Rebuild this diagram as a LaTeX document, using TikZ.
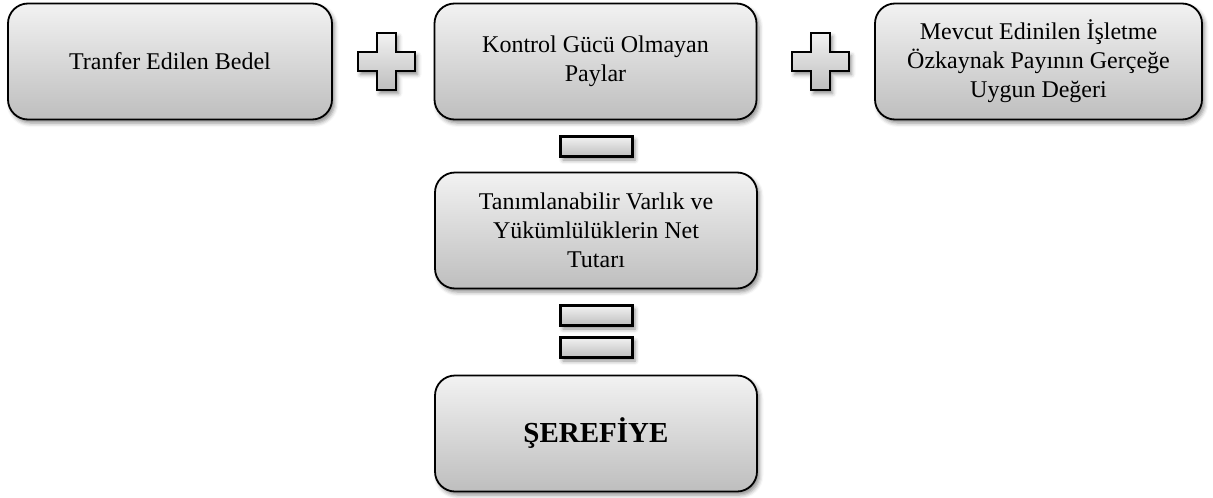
\documentclass[tikz,border=0pt]{standalone}
\usepackage{fontspec}
\setmainfont{Liberation Serif}
\usetikzlibrary{shadows.blur}

\definecolor{shadeTop}{RGB}{242,242,242}
\definecolor{shadeBot}{RGB}{190,190,190}

\tikzset{
  softshadow/.style={blur shadow={shadow xshift=2.5pt, shadow yshift=-3.5pt,
      shadow blur radius=4pt, shadow opacity=45}},
  stagebox/.style={draw=black, line width=1.8pt, rounded corners=20pt,
      top color=shadeTop, bottom color=shadeBot, softshadow,
      minimum width=322pt, minimum height=116pt, align=center,
      inner sep=4pt, font=\fontsize{24}{29}\selectfont},
  opsign/.style={draw=black, line width=1.8pt, top color=shadeTop,
      bottom color=shadeBot, softshadow},
  barbox/.style={opsign, line width=2.2pt, minimum width=72pt,
      minimum height=20pt, inner sep=0pt},
}

% plus sign centred on a given coordinate
\newcommand{\plussign}[1]{%
  \path[opsign] ($(#1)+(-9.5,-28.5)$) -- ++(19,0) -- ++(0,19) -- ++(19,0)
    -- ++(0,19) -- ++(-19,0) -- ++(0,19) -- ++(-19,0) -- ++(0,-19)
    -- ++(-19,0) -- ++(0,-19) -- ++(19,0) -- cycle;}
\usetikzlibrary{calc}

\begin{document}
\begin{tikzpicture}[x=1pt, y=-1pt]
  \useasboundingbox (0,0) rectangle (1213,498);

  % top row
  \node[stagebox, minimum width=324pt] (bedel) at (170,61.5) {Tranfer Edilen Bedel};
  \node[stagebox] (kontrol) at (595.5,61.5) {Kontrol Gücü Olmayan\\Paylar};
  \node[stagebox, minimum width=327pt] (ozkaynak) at (1038.5,61.5)
    {Mevcut Edinilen İşletme\\Özkaynak Payının Gerçeğe\\Uygun Değeri};

  \coordinate (plusA) at (386.5,61.5);
  \coordinate (plusB) at (820.5,61.5);
  \plussign{plusA}
  \plussign{plusB}

  % minus
  \node[barbox] (eksi) at (596.5,146.5) {};

  % net assets
  \node[stagebox] (varlik) at (596,230.5)
    {Tanımlanabilir Varlık ve\\Yükümlülüklerin Net\\Tutarı};

  % equals
  \node[barbox] (esitA) at (596.5,315.5) {};
  \node[barbox] (esitB) at (596.5,347.5) {};

  % result
  \node[stagebox, font=\fontsize{29}{34}\selectfont\bfseries] (serefiye)
    at (596,433.5) {ŞEREFİYE};
\end{tikzpicture}
\end{document}
